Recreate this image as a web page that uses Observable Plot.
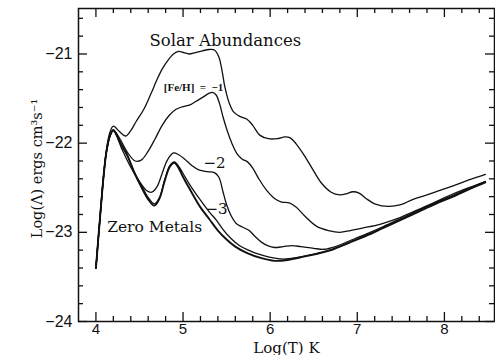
<!DOCTYPE html>
<html>
<head>
<meta charset="utf-8">
<script src="https://cdn.jsdelivr.net/npm/d3@7"></script>
<script src="https://cdn.jsdelivr.net/npm/@observablehq/plot@0.6"></script>
<style>
html, body { margin: 0; padding: 0; background: #fff; }
</style>
</head>
<body>
<div id="chart"></div>
<script>
// Cooling function curves: [log T (K), log Lambda (erg cm^3 s^-1)]
const solar = [
  [4.00,-23.40],[4.05,-22.80],[4.09,-22.34],[4.12,-22.08],[4.16,-21.88],[4.20,-21.81],
  [4.27,-21.87],[4.34,-21.92],[4.40,-21.86],[4.46,-21.76],[4.55,-21.62],[4.63,-21.45],
  [4.70,-21.29],[4.76,-21.17],[4.82,-21.08],[4.89,-21.00],[4.95,-20.97],[5.01,-20.985],
  [5.07,-21.00],[5.14,-20.985],[5.22,-20.965],[5.30,-20.95],[5.36,-20.955],[5.41,-21.03],
  [5.45,-21.20],[5.48,-21.37],[5.53,-21.55],[5.58,-21.65],[5.65,-21.70],[5.73,-21.73],
  [5.80,-21.80],[5.88,-21.91],[5.98,-21.95],[6.08,-21.95],[6.17,-21.93],[6.23,-21.94],
  [6.30,-22.01],[6.38,-22.12],[6.48,-22.28],[6.59,-22.45],[6.70,-22.55],[6.80,-22.58],
  [6.87,-22.57],[6.95,-22.545],[7.02,-22.56],[7.10,-22.62],[7.20,-22.68],[7.36,-22.71],
  [7.50,-22.69],[7.64,-22.63],[7.80,-22.58],[7.95,-22.53],[8.10,-22.48],[8.29,-22.41],
  [8.47,-22.35]
];
const feH1 = [
  [4.00,-23.40],[4.05,-22.80],[4.09,-22.35],[4.12,-22.10],[4.16,-21.92],[4.20,-21.85],
  [4.28,-21.96],[4.36,-22.10],[4.45,-22.20],[4.52,-22.19],[4.60,-22.09],[4.68,-21.95],
  [4.76,-21.80],[4.84,-21.69],[4.92,-21.62],[5.00,-21.59],[5.08,-21.57],[5.15,-21.53],
  [5.22,-21.49],[5.30,-21.44],[5.34,-21.43],[5.38,-21.46],[5.42,-21.56],[5.46,-21.71],
  [5.51,-21.87],[5.56,-22.00],[5.62,-22.12],[5.68,-22.18],[5.74,-22.21],[5.80,-22.28],
  [5.87,-22.40],[5.96,-22.53],[6.05,-22.62],[6.13,-22.66],[6.22,-22.67],[6.30,-22.72],
  [6.40,-22.82],[6.53,-22.93],[6.67,-22.98],[6.80,-23.00],[6.92,-22.98],[7.07,-22.95],
  [7.26,-22.91],[7.45,-22.85],[7.64,-22.77],[7.85,-22.68],[8.05,-22.59],[8.25,-22.51],
  [8.47,-22.43]
];
const feH2 = [
  [4.00,-23.40],[4.05,-22.80],[4.09,-22.35],[4.12,-22.10],[4.16,-21.92],[4.20,-21.85],
  [4.30,-22.07],[4.40,-22.27],[4.50,-22.43],[4.58,-22.53],[4.64,-22.55],[4.70,-22.49],
  [4.76,-22.34],[4.82,-22.19],[4.89,-22.11],[4.95,-22.13],[5.02,-22.18],[5.10,-22.25],
  [5.18,-22.30],[5.28,-22.32],[5.36,-22.33],[5.41,-22.38],[5.46,-22.55],[5.50,-22.69],
  [5.55,-22.81],[5.61,-22.90],[5.68,-22.94],[5.76,-22.98],[5.83,-23.05],[5.90,-23.11],
  [5.97,-23.15],[6.05,-23.17],[6.15,-23.16],[6.25,-23.15],[6.35,-23.16],[6.50,-23.18],
  [6.62,-23.19],[6.75,-23.16],[6.90,-23.10],[7.10,-23.02],[7.30,-22.935],[7.50,-22.845],
  [7.70,-22.755],[7.90,-22.665],[8.10,-22.585],[8.30,-22.50],[8.47,-22.43]
];
const feH3 = [
  [4.00,-23.40],[4.05,-22.80],[4.09,-22.35],[4.12,-22.10],[4.16,-21.92],[4.20,-21.85],
  [4.28,-21.99],[4.36,-22.13],[4.44,-22.32],[4.52,-22.47],[4.60,-22.61],[4.67,-22.68],
  [4.73,-22.61],[4.79,-22.41],[4.85,-22.25],[4.90,-22.21],[4.95,-22.26],[5.00,-22.34],
  [5.08,-22.47],[5.20,-22.64],[5.30,-22.77],[5.38,-22.86],[5.46,-22.97],[5.55,-23.07],
  [5.65,-23.15],[5.75,-23.20],[5.85,-23.24],[6.00,-23.28],[6.15,-23.30],[6.35,-23.275],
  [6.50,-23.245],[6.70,-23.195],[6.90,-23.115],[7.10,-23.035],[7.30,-22.945],[7.50,-22.855],
  [7.70,-22.765],[7.90,-22.675],[8.10,-22.595],[8.30,-22.505],[8.47,-22.435]
];
const zeroMetals = [
  [4.00,-23.40],[4.05,-22.80],[4.09,-22.35],[4.12,-22.10],[4.16,-21.92],[4.20,-21.86],
  [4.28,-22.00],[4.36,-22.14],[4.44,-22.33],[4.52,-22.49],[4.60,-22.63],[4.67,-22.70],
  [4.73,-22.62],[4.79,-22.42],[4.85,-22.26],[4.90,-22.22],[4.95,-22.28],[5.00,-22.38],
  [5.08,-22.52],[5.20,-22.72],[5.30,-22.85],[5.40,-22.98],[5.50,-23.08],[5.60,-23.16],
  [5.73,-23.23],[5.90,-23.29],[6.05,-23.32],[6.20,-23.31],[6.35,-23.28],[6.50,-23.25],
  [6.70,-23.20],[6.90,-23.12],[7.10,-23.04],[7.30,-22.95],[7.50,-22.86],[7.70,-22.77],
  [7.90,-22.68],[8.10,-22.60],[8.30,-22.51],[8.47,-22.44]
];

const xTicks = [4, 5, 6, 7, 8];
const xTickLabels = ["4", "5", "6", "7", "8"];
const yTicks = [-24, -23, -22, -21];
const yTickLabels = ["−24", "−23", "−22", "−21"];

// layout
const W = 495, H = 355;
const mL = 78, mR = 1, mT = 8, mB = 34;
const innerW = W - mL - mR, innerH = H - mT - mB;
const majorLen = 9, minorLen = 5;
const serif = "DejaVu Serif";
const sans = "Liberation Sans";

const notInteger = v => Math.abs(v - Math.round(v)) > 0.01;
const xMinor = d3.range(4.2, 8.5, 0.2).filter(notInteger);
const yMinor = d3.range(-23.8, -20.5, 0.2).filter(notInteger);

const curves = [
  {pts: solar, w: 1.3},
  {pts: feH1, w: 1.3},
  {pts: feH2, w: 1.3},
  {pts: feH3, w: 1.3},
  {pts: zeroMetals, w: 1.9}
];

const tickStyle = {stroke: "#111", strokeWidth: 1.3};

const chart = Plot.plot({
  width: W, height: H,
  marginLeft: mL, marginRight: mR, marginTop: mT, marginBottom: mB,
  style: {background: "#fff", color: "#111"},
  x: {domain: [3.8, 8.575]},
  y: {domain: [-24, -20.49]},
  marks: [
    // inward tick marks on all four sides
    Plot.ruleX(xTicks, {...tickStyle, insetTop: innerH - majorLen}),
    Plot.ruleX(xMinor, {...tickStyle, insetTop: innerH - minorLen}),
    Plot.ruleX(xTicks, {...tickStyle, insetBottom: innerH - majorLen}),
    Plot.ruleX(xMinor, {...tickStyle, insetBottom: innerH - minorLen}),
    Plot.ruleY(yTicks, {...tickStyle, insetRight: innerW - majorLen}),
    Plot.ruleY(yMinor, {...tickStyle, insetRight: innerW - minorLen}),
    Plot.ruleY(yTicks, {...tickStyle, insetLeft: innerW - majorLen}),
    Plot.ruleY(yMinor, {...tickStyle, insetLeft: innerW - minorLen}),
    Plot.frame({stroke: "#111", strokeWidth: 1.5}),
    // tick labels
    Plot.axisX({ticks: xTicks, tickSize: 0, tickPadding: 2, fontSize: 15, fontFamily: sans,
      tickFormat: d => xTickLabels[xTicks.indexOf(d)], label: null}),
    Plot.axisY({ticks: yTicks, tickSize: 0, tickPadding: 6, fontSize: 16, fontFamily: sans,
      tickFormat: d => yTickLabels[yTicks.indexOf(d)], label: null}),
    // curves
    ...curves.map(c => Plot.line(c.pts, {
      x: d => d[0], y: d => d[1], curve: "catmull-rom",
      stroke: "#111", strokeWidth: c.w, strokeLinejoin: "round"
    })),
    // annotations
    Plot.text(["Solar Abundances"], {text: d => d, x: 4.615, y: -20.905, textAnchor: "start",
      lineAnchor: "bottom", fontSize: 16.5, fontFamily: serif, fill: "#111"}),
    Plot.text(["[Fe/H]\u2002=\u2002−1"], {text: d => d, x: 4.779, y: -21.376, textAnchor: "start",
      lineAnchor: "middle", fontSize: 11, fontWeight: "bold", fontFamily: "Liberation Serif", fill: "#111"}),
    Plot.text(["−2"], {text: d => d, x: 5.235, y: -22.284, textAnchor: "start",
      lineAnchor: "bottom", fontSize: 15, fontFamily: serif, fill: "#111"}),
    Plot.text(["−3"], {text: d => d, x: 5.258, y: -22.789, textAnchor: "start",
      lineAnchor: "bottom", fontSize: 15, fontFamily: serif, fill: "#111"}),
    Plot.text(["Zero Metals"], {text: d => d, x: 4.129, y: -22.996, textAnchor: "start",
      lineAnchor: "bottom", fontSize: 15.5, fontFamily: serif, fill: "#111"}),
    // axis titles
    Plot.text(["Log(T) K"], {text: d => d, frameAnchor: "bottom", dy: 31, lineAnchor: "bottom",
      fontSize: 15, fontFamily: serif, fill: "#111"}),
    Plot.text(["Log(Λ) ergs cm³s⁻¹"], {text: d => d, frameAnchor: "left", rotate: -90, dx: -37, dy: 3.5,
      lineAnchor: "bottom", textAnchor: "middle", fontSize: 14.5, fontFamily: serif, fill: "#111"})
  ]
});

document.getElementById("chart").appendChild(chart);
</script>
</body>
</html>
